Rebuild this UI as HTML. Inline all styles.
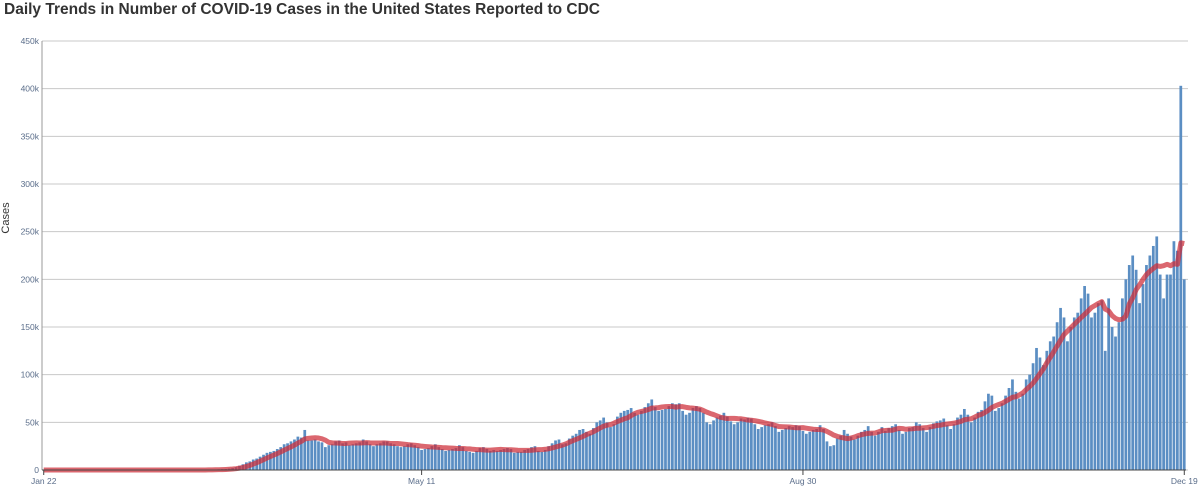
<!DOCTYPE html>
<html><head><meta charset="utf-8"><style>
body{margin:0;background:#fff;width:1200px;height:488px;overflow:hidden;font-family:"Liberation Sans",sans-serif}
#title{position:absolute;left:4px;top:1px;font-size:15.5px;font-weight:bold;color:#333}
</style></head><body>
<div id="title">Daily Trends in Number of COVID-19 Cases in the United States Reported to CDC</div>
<svg id="chart" width="1200" height="488" style="position:absolute;left:0;top:0"></svg>
<script>
const startDate = "Jan 22";
const xTickLabels = ["Jan 22","May 11","Aug 30","Dec 19"];
const xTickIndex = [0,110,221,332];
const yTicks = [0,50,100,150,200,250,300,350,400,450];
const casesJanFeb = new Array(39).fill(0);
const casesMar = [0,0,0,0,0,0,0.1,0.1,0.2,0.3,0.4,0.5,0.7,0.9,1,1.5,2,3,4.5,6,8,9,11,12,14,16,18,19,20,22,24];
const casesApr = [27,28,30,32,35,34,42,31,31,32,30,29,24,26,27,30,31,28,29,26,27,28,29,32,30,27,25,27,28,30];
const casesMay = [30,28,27,25,24,25,27,28,26,24,21,22,23,25,27,24,22,20,21,22,23,26,24,20,19,18,20,23,24,22,20];
const casesJun = [21,20,21,22,23,22,18,19,19,21,22,24,25,20,19,21,25,28,31,32,27,28,33,36,38,42,43,40,38,44];
const casesJul = [50,52,55,50,45,48,56,60,62,63,65,60,58,62,66,70,74,66,62,63,64,67,70,69,70,62,58,60,65,67,65];
const casesAug = [60,50,48,52,55,57,60,56,51,48,50,54,53,55,54,48,43,45,47,48,50,46,40,42,44,46,45,47,46,41,38];
const casesSep = [40,42,43,47,43,30,25,26,33,36,42,38,35,32,36,40,42,46,40,36,40,45,41,44,46,48,42,38,40,44];
const casesOct = [45,50,48,44,40,45,49,51,52,54,47,43,48,55,58,64,58,50,55,61,63,72,80,78,62,65,70,78,86,95,82];
const casesNov = [75,80,95,100,112,128,118,110,125,135,140,155,170,160,135,150,160,165,180,193,185,160,165,175,178,125,180,150,140,155];
const casesDec = [180,200,215,225,210,175,195,215,225,235,245,205,180,205,205,240,230,403,200];
const cases = [].concat(casesJanFeb,casesMar,casesApr,casesMay,casesJun,casesJul,casesAug,casesSep,casesOct,casesNov,casesDec);

const NS="http://www.w3.org/2000/svg";
const svg=document.getElementById('chart');
const X0=42,X1=1186,Y0=470,Y450=41;
const n=cases.length;
const step=(X1-X0)/n;
const xs=i=>X0+(i+0.5)*step;
const ys=v=>Y0-(v/450)*(Y0-Y450);
function mk(t,a){const e=document.createElementNS(NS,t);for(const k in a)e.setAttribute(k,a[k]);svg.appendChild(e);return e;}
yTicks.forEach(v=>{
  const g=mk('line',{x1:X0,x2:X1+2,y1:ys(v),y2:ys(v),stroke:'#c8c8c8','stroke-width':1});
  
  
  const t=mk('text',{x:X0-3,y:ys(v)+3,'text-anchor':'end','font-size':8.5,fill:'#5a6d8a'});
  t.textContent=v===0?'0':v+'k';
  
  
});
const yl=mk('line',{x1:X0,x2:X0,y1:Y450,y2:Y0,stroke:'#999','stroke-width':1});


cases.forEach((v,i)=>{
  const r=mk('rect',{x:X0+i*step+0.3,y:ys(v),width:step-0.7,height:Y0-ys(v),fill:'#5b8ec3'});
  
  
});
const avg=cases.map((v,i)=>{let s=0,c=0;for(let k=Math.max(0,i-6);k<=i;k++){s+=cases[k];c++;}return s/c;});
const p=mk('polyline',{points:avg.map((v,i)=>xs(i)+','+ys(v)).join(' '),fill:'none',stroke:'rgba(205,45,55,0.72)','stroke-width':5,'stroke-linejoin':'round'});


const xl=mk('line',{x1:X0,x2:X1,y1:Y0,y2:Y0,stroke:'#444','stroke-width':1});


xTickLabels.forEach((lab,k)=>{
  const x=xs(xTickIndex[k]);
  const tk=mk('line',{x1:x,x2:x,y1:Y0,y2:Y0+5,stroke:'#444'});
  
  
  const t=mk('text',{x:x,y:484,'text-anchor':'middle','font-size':8.5,fill:'#5a6d8a'});
  t.textContent=lab;
  
  
});
const yt=mk('text',{x:0,y:0,transform:'translate(9,218) rotate(-90)','text-anchor':'middle','font-size':11,fill:'#333'});
yt.textContent='Cases';


</script>
</body></html>
